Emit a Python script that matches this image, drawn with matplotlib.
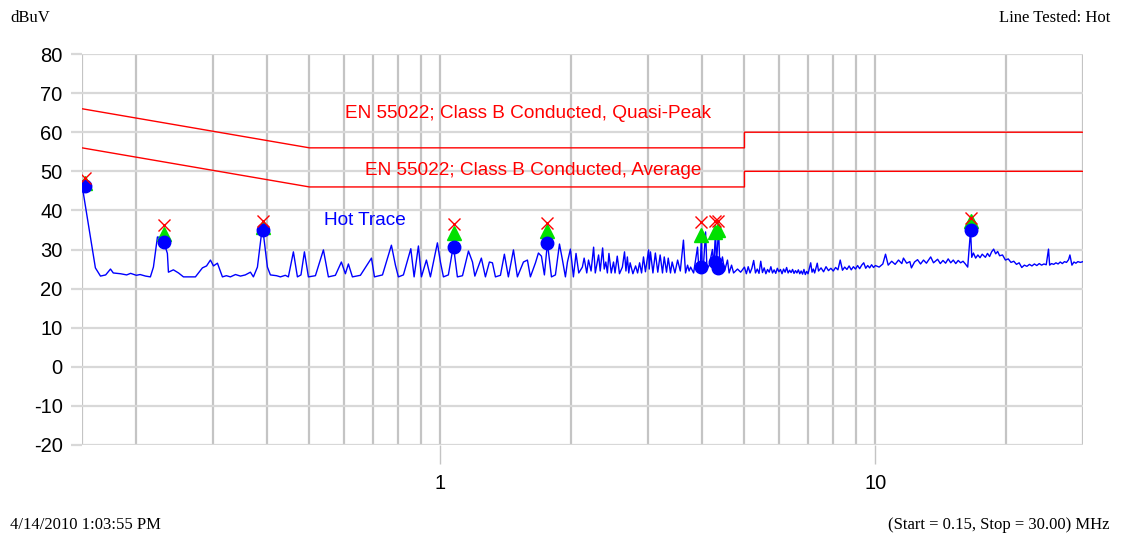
import numpy as np
import matplotlib.pyplot as plt
from matplotlib.ticker import FixedLocator, NullFormatter

plt.rcParams['font.family'] = ['Liberation Sans', 'DejaVu Sans']
plt.rcParams['axes.unicode_minus'] = False

# ---- data ----
# measured trace, MHz / dBuV
trace_freq_a = [0.150, 0.161, 0.1654, 0.170, 0.1744, 0.177, 0.184, 0.190, 0.194, 0.200,
                0.204, 0.210, 0.2154, 0.2189, 0.2236, 0.2296, 0.2357, 0.2370, 0.2433, 0.250,
                0.2566, 0.2734, 0.2837, 0.290, 0.2960, 0.3008, 0.3072, 0.3154, 0.322, 0.329,
                0.338, 0.347, 0.356, 0.3658, 0.3716, 0.3796, 0.3898, 0.4002, 0.4066, 0.420,
                0.4287, 0.440, 0.4472, 0.4592, 0.4691, 0.478, 0.4868, 0.4972, 0.516, 0.5383,
                0.5527, 0.5735, 0.5920, 0.6047, 0.6144, 0.6276, 0.6547, 0.6942, 0.7053, 0.7359,
                0.7715, 0.7881, 0.8006, 0.8221, 0.855, 0.870, 0.8901, 0.9044, 0.9286, 0.9484,
                0.9842, 1.000, 1.016, 1.043, 1.071, 1.094, 1.124, 1.160, 1.185, 1.200,
                1.242, 1.269, 1.296, 1.317, 1.338, 1.374, 1.403, 1.433, 1.472, 1.503,
                1.552, 1.585, 1.610, 1.654, 1.680, 1.707, 1.734, 1.762, 1.800, 1.838,
                1.878, 1.908, 1.938, 1.959, 1.990, 2.022]
trace_level_a = [46.5, 25.3, 23.2, 23.5, 25.0, 24.0, 23.8, 23.5, 23.9, 23.4,
                 23.6, 23.2, 23.0, 25.5, 33.2, 33.0, 29.0, 24.2, 24.8, 24.0,
                 23.0, 23.0, 25.3, 25.8, 27.3, 25.8, 26.5, 23.0, 23.3, 23.0,
                 23.6, 23.2, 23.5, 24.2, 23.0, 25.5, 36.0, 25.5, 23.5, 23.3,
                 23.0, 23.4, 23.0, 29.4, 23.0, 23.5, 29.4, 23.0, 23.3, 29.9,
                 23.0, 23.4, 26.8, 23.8, 26.3, 23.0, 23.4, 27.8, 23.0, 23.5,
                 31.1, 26.0, 23.0, 23.5, 30.2, 23.0, 30.9, 23.0, 27.3, 23.0,
                 31.7, 26.8, 23.0, 23.5, 31.0, 23.0, 23.3, 29.6, 26.8, 23.2,
                 27.8, 23.0, 26.8, 26.6, 23.0, 23.4, 28.8, 23.0, 29.9, 23.0,
                 26.8, 27.3, 23.0, 26.6, 29.1, 28.3, 23.5, 31.7, 23.0, 23.5,
                 31.4, 27.3, 23.0, 26.8, 30.1, 23.0]

trace_freq_b = [2.05, 2.08, 2.12, 2.14, 2.17, 2.19, 2.22, 2.25, 2.27, 2.31,
                2.33, 2.36, 2.38, 2.40, 2.42, 2.44, 2.47, 2.50, 2.52, 2.55,
                2.58, 2.62, 2.65, 2.67, 2.69, 2.71, 2.73, 2.77, 2.81, 2.84,
                2.87, 2.90, 2.93, 2.96, 3.01, 3.02, 3.04, 3.08, 3.12, 3.16,
                3.20, 3.24, 3.27, 3.31, 3.34, 3.38, 3.41, 3.46, 3.51, 3.56,
                3.62, 3.66, 3.70, 3.73, 3.76, 3.82, 3.90, 3.93, 3.96, 3.98,
                4.00, 4.03, 4.07, 4.10, 4.15, 4.22, 4.25, 4.29, 4.31, 4.36,
                4.39, 4.45, 4.50, 4.57, 4.61, 4.67, 4.72, 4.82, 4.90]
trace_level_b = [29.0, 24.0, 25.5, 27.8, 24.0, 27.3, 24.5, 30.6, 24.0, 28.6,
                 24.5, 30.4, 25.0, 26.8, 24.0, 29.0, 24.0, 26.8, 24.0, 28.3,
                 23.8, 25.5, 29.4, 24.5, 28.1, 24.0, 26.6, 23.8, 25.8, 24.0,
                 26.6, 24.0, 28.1, 24.3, 29.9, 25.0, 29.4, 24.0, 29.1, 24.2,
                 28.6, 24.0, 28.1, 24.2, 27.8, 24.0, 26.8, 24.0, 27.3, 24.5,
                 32.4, 24.0, 26.0, 24.5, 25.5, 24.0, 30.6, 24.5, 26.0, 34.0,
                 24.5, 27.0, 34.5, 25.0, 26.0, 30.0, 25.5, 35.0, 26.0, 35.5,
                 25.0, 28.1, 24.5, 27.3, 24.0, 26.0, 24.0, 25.0, 24.2]

trace_freq_c = [5.00, 5.05, 5.10, 5.15, 5.20, 5.25, 5.30, 5.35, 5.40, 5.45,
                5.50, 5.55, 5.60, 5.65, 5.70, 5.75, 5.80, 5.85, 5.90, 5.95,
                6.00, 6.05, 6.10, 6.15, 6.20, 6.25, 6.30, 6.35, 6.40, 6.45,
                6.50, 6.55, 6.60, 6.65, 6.70, 6.75, 6.80, 6.85, 6.90, 6.95,
                7.00, 7.10, 7.15, 7.20, 7.25, 7.35, 7.40, 7.50, 7.60, 7.70,
                7.80, 7.90, 8.00, 8.10, 8.20, 8.30, 8.40, 8.50, 8.60, 8.70,
                8.80, 8.90, 9.00, 9.10, 9.20, 9.30, 9.40, 9.50, 9.60, 9.70,
                9.80, 9.90, 10.0, 10.2, 10.4, 10.55, 10.7, 10.9, 11.1, 11.3,
                11.5, 11.6, 11.8, 12.0, 12.1, 12.3, 12.5, 12.7, 12.9, 13.1,
                13.4, 13.6, 13.9, 14.1, 14.3, 14.5, 14.7, 14.9, 15.1, 15.3,
                15.5, 15.7, 15.9, 16.1, 16.3, 16.55, 16.65, 16.8, 17.0, 17.2,
                17.4, 17.6, 17.9, 18.1, 18.3, 18.5, 18.7, 18.9, 19.1, 19.3,
                19.6, 19.9, 20.2, 20.5, 20.8, 21.1, 21.4, 21.7, 22.0, 22.3,
                22.6, 22.9, 23.2, 23.5, 23.8, 24.1, 24.4, 24.7, 25.0, 25.15,
                25.4, 25.7, 26.0, 26.3, 26.6, 26.9, 27.2, 27.5, 27.8, 28.0,
                28.3, 28.6, 28.9, 29.2, 29.6, 30.0]
trace_level_c = [25.5, 23.8, 25.6, 24.0, 25.2, 27.2, 24.0, 25.0, 23.9, 27.0,
                 24.1, 25.3, 23.8, 24.9, 24.2, 25.6, 24.0, 24.8, 23.9, 25.2,
                 24.3, 24.9, 23.8, 25.0, 24.2, 25.4, 24.0, 24.7, 24.1, 24.9,
                 23.9, 24.6, 24.0, 24.8, 23.8, 24.5, 23.7, 24.9, 23.6, 24.4,
                 23.8, 26.6, 24.2, 25.0, 24.0, 26.5, 24.5, 25.3, 24.3, 25.6,
                 24.6, 25.2, 24.5, 25.4, 24.8, 27.3, 24.7, 25.5, 24.9, 25.8,
                 24.8, 25.6, 25.0, 25.9, 25.1, 26.0, 26.6, 25.2, 25.9, 25.3,
                 26.1, 25.4, 25.9, 25.5, 26.3, 28.8, 26.0, 27.0, 26.2, 27.3,
                 26.4, 27.8, 26.5, 26.9, 25.3, 26.8, 27.4, 26.3, 27.3, 26.5,
                 28.1, 26.6, 27.5, 26.4, 27.2, 26.5, 27.6, 26.6, 27.3, 26.4,
                 27.2, 26.6, 27.0, 26.3, 25.5, 35.0, 28.0, 29.1, 27.8, 28.6,
                 27.9, 28.8, 28.0, 29.0, 28.2, 29.4, 30.1, 28.9, 29.5, 28.4,
                 28.6, 27.3, 27.6, 26.7, 27.0, 26.2, 26.6, 25.4, 26.0, 25.7,
                 26.2, 25.8, 26.3, 25.9, 26.4, 26.0, 26.3, 26.1, 30.1, 26.0,
                 26.4, 26.2, 26.6, 26.3, 26.8, 26.4, 26.9, 26.7, 27.4, 28.6,
                 26.0, 26.8, 26.5, 26.9, 26.7, 26.9]

# EN 55022 class B limits
limit_freq = [0.15, 0.5, 5.0, 5.0, 30.0]
qp_limit = [66, 56, 56, 60, 60]
avg_limit = [56, 46, 46, 50, 50]

# marker readings
marker_freq = [0.152, 0.231, 0.392, 1.077, 1.762, 3.98, 4.27, 4.35, 16.6]
qp_peak_level = [48.3, 36.3, 37.3, 36.5, 36.8, 37.0, 37.2, 37.2, 38.1]
qp_meas_level = [47.0, 34.0, 35.8, 34.2, 34.8, 33.7, 34.5, 35.0, 37.4]
avg_meas_level = [46.2, 31.9, 35.0, 30.6, 31.7, 25.5, 26.8, 25.3, 35.0]

trace_freq = trace_freq_a + trace_freq_b + trace_freq_c
trace_level = trace_level_a + trace_level_b + trace_level_c

# ---- figure ----
fig = plt.figure(figsize=(11.22, 5.39), dpi=100)
ax = fig.add_axes([0.0731, 0.1744, 0.8921, 0.7254])

ax.set_xscale('log')
ax.set_xlim(0.15, 30)
ax.set_ylim(-20, 80)

ax.xaxis.set_major_locator(FixedLocator([1, 10]))
ax.xaxis.set_major_formatter(plt.FuncFormatter(lambda v, p: '%g' % v))
minor = [0.15, 0.2, 0.3, 0.4, 0.5, 0.6, 0.7, 0.8, 0.9, 2, 3, 4, 5, 6, 7, 8, 9, 20, 30]
ax.xaxis.set_minor_locator(FixedLocator(minor))
ax.xaxis.set_minor_formatter(NullFormatter())
ax.set_yticks(np.arange(-20, 81, 10))

ax.grid(True, which='both', axis='x', color='#c4c4c4', lw=1.6)
ax.grid(True, which='major', axis='y', color='#d8d8d8', lw=1.6)
ax.set_axisbelow(True)
for s in ax.spines.values():
    s.set_visible(False)

ax.tick_params(axis='x', which='major', length=14, width=1, color='#c4c4c4',
               labelsize=14.5, pad=7)
ax.tick_params(axis='x', which='minor', length=0)
ax.tick_params(axis='y', length=8, width=1.6, color='#d8d8d8', labelsize=14.5, pad=6)

ax.plot(limit_freq, qp_limit, color='#ff0000', lw=1)
ax.plot(limit_freq, avg_limit, color='#ff0000', lw=1)
ax.plot(trace_freq, trace_level, color='#0000ff', lw=1)

ax.plot(marker_freq, qp_meas_level, '^', color='#00e000', ms=10, ls='none', zorder=4)
ax.plot(marker_freq, avg_meas_level, 'o', color='#0000ff', ms=9, ls='none', zorder=5)
ax.plot(marker_freq, qp_peak_level, 'x', color='#ff0000', ms=9, mew=1, ls='none', zorder=6)

ax.text(0.605, 64.9, 'EN 55022; Class B Conducted, Quasi-Peak', color='#ff0000',
        fontsize=13.7, va='center', ha='left')
ax.text(0.672, 50.1, 'EN 55022; Class B Conducted, Average', color='#ff0000',
        fontsize=13.7, va='center', ha='left')
ax.text(0.541, 37.3, 'Hot Trace', color='#0000ff', fontsize=13.7, va='center', ha='left')

serif = ['Liberation Serif', 'DejaVu Serif']
fig.text(10 / 1122, 1 - 18 / 539, 'dBuV', family=serif, fontsize=12, va='center', ha='left')
fig.text(1110 / 1122, 1 - 18 / 539, 'Line Tested: Hot', family=serif, fontsize=12,
         va='center', ha='right')
fig.text(10 / 1122, 1 - 525 / 539, '4/14/2010 1:03:55 PM', family=serif, fontsize=12,
         va='center', ha='left')
fig.text(1110 / 1122, 1 - 525 / 539, '(Start = 0.15, Stop = 30.00) MHz', family=serif,
         fontsize=12, va='center', ha='right')

fig.savefig('out.png', dpi=100)
